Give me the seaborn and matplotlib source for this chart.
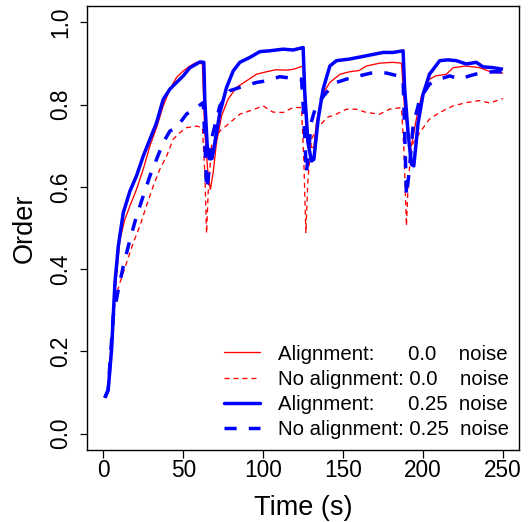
import numpy as np
import pandas as pd
import matplotlib
matplotlib.use("Agg")
import matplotlib.pyplot as plt
from matplotlib.lines import Line2D
import seaborn as sns

# ---- data ----
t_al0 = [1, 3, 6.25, 10.4, 13.5, 16.7, 20.8, 25, 29.2, 33.3, 37.5, 41.7, 45.8, 50, 54.2, 58.3, 62,
         63.5, 65.6, 67, 68.75, 70.8, 74, 78, 83.3, 89.6, 95.8, 102, 108, 114.6, 118.75, 125,
         126, 128, 130, 131.7, 133.3, 136.5, 141.7, 148, 154, 160, 164.6, 172.9, 181, 186.5,
         188.5, 191.25, 192.7, 195.8, 199, 204, 208, 214.6, 218.75, 227, 235.4, 243.75, 250]
v_al0 = [0.087, 0.105, 0.30, 0.472, 0.521, 0.554, 0.594, 0.643, 0.70, 0.744, 0.797, 0.838, 0.866,
         0.882, 0.894, 0.903, 0.899,
         0.732, 0.627, 0.594, 0.635, 0.708, 0.773, 0.813, 0.842, 0.858, 0.874, 0.880, 0.885, 0.884,
         0.886, 0.894,
         0.789, 0.732, 0.696, 0.696, 0.756, 0.821, 0.854, 0.874, 0.880, 0.883, 0.894, 0.901, 0.903,
         0.901,
         0.789, 0.708, 0.700, 0.765, 0.821, 0.862, 0.870, 0.874, 0.890, 0.894, 0.890, 0.878, 0.877]

t_noal0 = [1, 3, 7.3, 10.4, 14.6, 18.75, 22.9, 27, 31.25, 35.4, 39.6, 43.75, 47.9, 52, 58.3, 62,
           63.5, 64.6, 65.6, 67.7, 72.9, 79.2, 85.4, 91.7, 100, 106, 112.5, 118.75, 124,
           125.4, 126.7, 128, 130.2, 133.3, 140, 145.8, 152, 158, 164.6, 172.9, 179, 186.5,
           188, 189.6, 190.6, 192.7, 197.9, 204, 210.4, 218.75, 227, 235.4, 241.7, 250]
v_noal0 = [0.087, 0.105, 0.326, 0.367, 0.416, 0.464, 0.505, 0.554, 0.602, 0.643, 0.675, 0.716,
           0.732, 0.744, 0.748, 0.744,
           0.635, 0.487, 0.586, 0.700, 0.736, 0.756, 0.777, 0.785, 0.797, 0.782, 0.781, 0.793,
           0.793,
           0.667, 0.489, 0.618, 0.716, 0.740, 0.769, 0.777, 0.789, 0.789, 0.781, 0.777, 0.789,
           0.793,
           0.692, 0.505, 0.602, 0.700, 0.732, 0.765, 0.781, 0.797, 0.805, 0.810, 0.804, 0.815]

t_al25 = [1, 3.1, 5.2, 7.3, 9.4, 12.5, 16.7, 20.8, 25, 29.2, 33.3, 37.5, 41.7, 45.8, 50, 54.2,
          58.3, 60.4, 62.9,
          63.5, 65, 66.25, 68, 69.8, 72.9, 77.1, 81.25, 85.4, 91.7, 97.9, 104, 112.5, 118.75, 125,
          126, 128, 130.2, 131.7, 134.4, 137.5, 141.7, 145.8, 154, 164.6, 175, 181, 187.5,
          188.5, 190.6, 192.7, 194.2, 196.9, 200, 204, 210.4, 215.6, 220.8, 227, 233.3, 237.5,
          243.75, 250]
v_al25 = [0.087, 0.107, 0.205, 0.367, 0.456, 0.537, 0.590, 0.627, 0.675, 0.716, 0.756, 0.813,
          0.838, 0.854, 0.870, 0.890, 0.899, 0.904, 0.903,
          0.810, 0.700, 0.669, 0.669, 0.708, 0.780, 0.842, 0.882, 0.903, 0.915, 0.929, 0.931,
          0.935, 0.933, 0.939,
          0.830, 0.708, 0.663, 0.667, 0.765, 0.838, 0.894, 0.907, 0.911, 0.919, 0.927, 0.927,
          0.931,
          0.838, 0.732, 0.655, 0.651, 0.756, 0.825, 0.874, 0.907, 0.909, 0.907, 0.899, 0.903,
          0.892, 0.890, 0.886]

t_noal25 = [1, 3, 6.25, 9.4, 12.5, 16.7, 20.8, 25, 29.2, 33.3, 37.5, 41.7, 45.8, 52, 58.3, 62.5,
            63.5, 64.6, 65.6, 67.7, 72.9, 79.2, 85.4, 95.8, 102, 110.4, 118.75, 124,
            125.4, 127, 128, 130, 133, 139.6, 145.8, 152, 160, 168.75, 177, 185.4, 187.5,
            188.5, 189.6, 191.25, 193.75, 197.9, 204, 210.4, 216.7, 222.9, 229, 235.4, 243.75, 250]
v_noal25 = [0.087, 0.105, 0.286, 0.350, 0.407, 0.472, 0.529, 0.578, 0.627, 0.667, 0.708, 0.736,
            0.744, 0.777, 0.793, 0.805,
            0.716, 0.594, 0.618, 0.716, 0.797, 0.834, 0.842, 0.854, 0.858, 0.868, 0.864, 0.862,
            0.773, 0.635, 0.667, 0.756, 0.797, 0.830, 0.854, 0.862, 0.870, 0.878, 0.877, 0.869,
            0.862,
            0.732, 0.578, 0.635, 0.748, 0.813, 0.850, 0.862, 0.870, 0.862, 0.870, 0.877, 0.880,
            0.880]

labels = ["Alignment:      0.0    noise",
          "No alignment: 0.0    noise",
          "Alignment:      0.25  noise",
          "No alignment: 0.25  noise"]
x_ticks = [0, 50, 100, 150, 200, 250]
y_ticks = [0.0, 0.2, 0.4, 0.6, 0.8, 1.0]

# ---- style ----
sns.set_theme(style="ticks")
plt.rcParams["font.family"] = ["Liberation Sans", "DejaVu Sans"]

fig = plt.figure(figsize=(5.29, 5.22), dpi=100)
ax = fig.add_axes([0.165, 0.1379, 0.8161, 0.8506])

series = [
    (t_al0, v_al0, "#FF0000", 0.95, None),
    (t_noal0, v_noal0, "#FF0000", 0.95, (3.8, 3.0)),
    (t_al25, v_al25, "#0000FF", 2.5, None),
    (t_noal25, v_noal25, "#0000FF", 2.5, (3.5, 3.5)),
]
handles = []
for (tt, vv, col, lw, dash), lab in zip(series, labels):
    df = pd.DataFrame({"Time": tt, "Order": vv})
    sns.lineplot(data=df, x="Time", y="Order", ax=ax, color=col, linewidth=lw,
                 estimator=None, sort=False)
    ln = ax.lines[-1]
    if dash is not None:
        ln.set_dashes(dash)
    ln.set_solid_capstyle("butt")
    ln.set_dash_capstyle("butt")
    h = Line2D([0], [0], color=col, linewidth=lw)
    if dash is not None:
        h.set_dashes(dash)
    handles.append(h)

ax.set_xlim(-10, 260)
ax.set_ylim(-0.04, 1.04)
ax.set_xticks(x_ticks)
ax.set_yticks(y_ticks)
ax.set_xticklabels([str(v) for v in x_ticks])
ax.set_yticklabels([f"{v:.1f}" for v in y_ticks])
for s in ax.spines.values():
    s.set_visible(True)
    s.set_color("black")
    s.set_linewidth(1.0)
ax.tick_params(axis="both", direction="out", length=5.4, width=0.9, colors="black",
               labelsize=16.3)
ax.tick_params(axis="x", pad=1)
ax.tick_params(axis="y", pad=5.5, labelrotation=90)
for lbl in ax.get_yticklabels():
    lbl.set_verticalalignment("center")

ax.set_xlabel("Time (s)", fontsize=19.5, labelpad=9.5, color="black")
ax.set_ylabel("Order", fontsize=19.5, labelpad=8.5, color="black")

leg = ax.legend(handles, labels, loc="lower right", bbox_to_anchor=(0.977, 0.025),
                frameon=False, fontsize=14.7, borderpad=0, borderaxespad=0,
                handlelength=1.76, handletextpad=0.88, labelspacing=0.3)
for tx in leg.get_texts():
    tx.set_color("black")

fig.savefig("out.png", dpi=100)
